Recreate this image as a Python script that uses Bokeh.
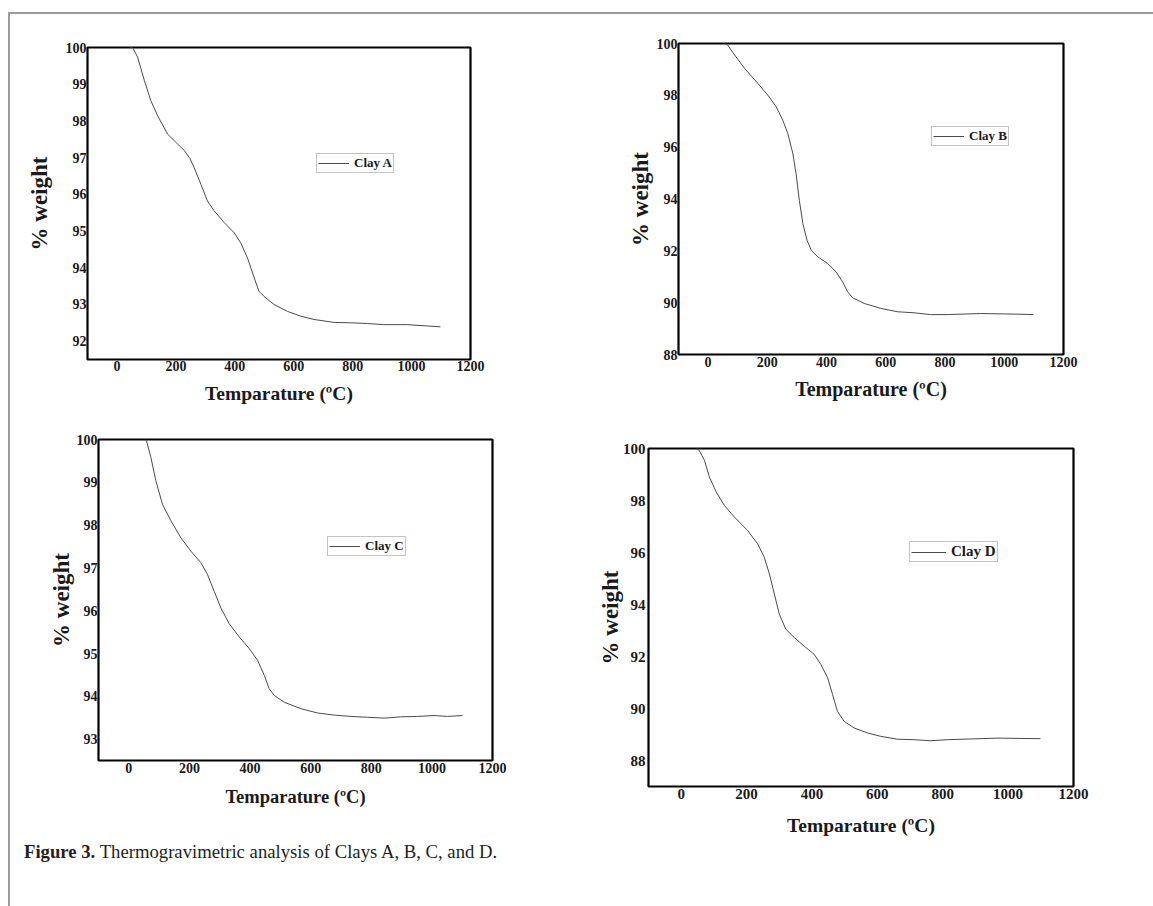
from bokeh.plotting import figure
from bokeh.models import FixedTicker, Legend, LegendItem, Div
from bokeh.layouts import row, column
from bokeh.embed import file_html
from bokeh.resources import INLINE

# ---------------- data ----------------
temp_a = [45, 53, 70, 93, 115, 138, 172, 206, 228, 248, 262, 285, 307, 330, 364, 398, 420,
          443, 466, 482, 499, 533, 579, 624, 669, 737, 793, 850, 906, 985, 1098]
weight_a = [100.0, 100.0, 99.74, 99.1, 98.55, 98.14, 97.64, 97.37, 97.2, 96.97, 96.73, 96.27,
            95.82, 95.55, 95.23, 94.95, 94.68, 94.27, 93.72, 93.36, 93.22, 93.0, 92.81,
            92.68, 92.59, 92.51, 92.5, 92.48, 92.45, 92.45, 92.39]

temp_b = [55, 64, 90, 123, 168, 202, 230, 252, 269, 286, 297, 308, 320, 334, 348, 370,
          404, 432, 454, 471, 488, 527, 583, 639, 695, 751, 807, 920, 1032, 1099]
weight_b = [100.0, 99.97, 99.55, 99.04, 98.46, 98.0, 97.56, 97.04, 96.53, 95.76, 94.98,
            93.95, 93.05, 92.41, 92.03, 91.77, 91.51, 91.19, 90.8, 90.42, 90.19, 89.97,
            89.78, 89.65, 89.61, 89.54, 89.54, 89.58, 89.56, 89.54]

temp_c = [55, 58, 73, 89, 111, 139, 172, 205, 238, 260, 282, 304, 331, 364, 397, 425,
          447, 463, 480, 513, 568, 623, 678, 733, 788, 843, 897, 953, 1007, 1051, 1101]
weight_c = [100.0, 99.98, 99.58, 99.04, 98.49, 98.1, 97.7, 97.39, 97.12, 96.84, 96.45,
            96.06, 95.7, 95.39, 95.12, 94.84, 94.49, 94.18, 94.02, 93.86, 93.71, 93.61,
            93.56, 93.53, 93.51, 93.49, 93.52, 93.53, 93.55, 93.53, 93.55]

temp_d = [45, 53, 71, 86, 107, 132, 163, 203, 234, 254, 270, 285, 300, 320, 346, 376,
          407, 427, 448, 463, 478, 498, 529, 570, 610, 661, 712, 763, 814, 865, 966, 1099]
weight_d = [100.0, 99.97, 99.55, 98.91, 98.33, 97.81, 97.36, 96.85, 96.33, 95.82, 95.17,
            94.4, 93.63, 93.05, 92.73, 92.4, 92.08, 91.7, 91.18, 90.54, 89.89, 89.51,
            89.25, 89.06, 88.93, 88.82, 88.8, 88.76, 88.8, 88.82, 88.86, 88.84]

x_ticks = [0, 200, 400, 600, 800, 1000, 1200]
y_ticks_a = [92, 93, 94, 95, 96, 97, 98, 99, 100]
y_ticks_b = [88, 90, 92, 94, 96, 98, 100]
y_ticks_c = [93, 94, 95, 96, 97, 98, 99, 100]
y_ticks_d = [88, 90, 92, 94, 96, 98, 100]
series_labels = ["Clay A", "Clay B", "Clay C", "Clay D"]
x_title = "Temparature (\u00baC)"
y_title = "% weight"
caption_bold = "Figure 3."
caption_text = "Thermogravimetric analysis of Clays A, B, C, and D."

SERIF = "Liberation Serif"
INK = "#1a1a1a"


def panel(temps, weights, label, y_range, y_ticks, w, h, bl, bt, br, bb,
          tick_px, ytitle_px, xtitle_px, ylab_stand, xlab_stand, ytit_stand, xtit_stand,
          leg_xy, leg_px, glyph_w):
    p = figure(width=w, height=h, x_range=(-100, 1200), y_range=y_range,
               output_backend="svg", toolbar_location=None,
               min_border_left=bl, min_border_top=bt, min_border_right=br,
               min_border_bottom=bb)
    p.border_fill_color = None
    p.background_fill_color = None
    p.outline_line_color = "black"
    p.outline_line_width = 2.2
    p.grid.visible = False
    r = p.line(temps, weights, line_color="#4a4a4a", line_width=1)

    for ax in (p.xaxis[0], p.yaxis[0]):
        ax.axis_line_color = None
        ax.major_tick_line_color = None
        ax.minor_tick_line_color = None
        ax.major_tick_out = 0
        ax.major_tick_in = 0
        ax.minor_tick_out = 0
        ax.minor_tick_in = 0
        ax.major_label_text_font = SERIF
        ax.major_label_text_font_style = "bold"
        ax.major_label_text_font_size = f"{tick_px}px"
        ax.major_label_text_color = INK
        ax.axis_label_text_font = SERIF
        ax.axis_label_text_font_style = "bold"
        ax.axis_label_text_color = INK
    p.xaxis[0].ticker = FixedTicker(ticks=x_ticks)
    p.yaxis[0].ticker = FixedTicker(ticks=y_ticks)
    p.xaxis[0].axis_label = x_title
    p.yaxis[0].axis_label = y_title
    p.xaxis[0].axis_label_text_font_size = f"{xtitle_px}px"
    p.yaxis[0].axis_label_text_font_size = f"{ytitle_px}px"
    p.xaxis[0].major_label_standoff = xlab_stand
    p.yaxis[0].major_label_standoff = ylab_stand
    p.xaxis[0].axis_label_standoff = xtit_stand
    p.yaxis[0].axis_label_standoff = ytit_stand

    leg = Legend(items=[LegendItem(label=label, renderers=[r])], location=leg_xy)
    leg.border_line_color = "#8a8a8a"
    leg.border_line_width = 1
    leg.background_fill_alpha = 1
    leg.padding = 1
    leg.margin = 0
    leg.spacing = 0
    leg.glyph_width = glyph_w
    leg.glyph_height = 10
    leg.label_height = 10
    leg.label_standoff = 5
    leg.label_text_font = SERIF
    leg.label_text_font_style = "bold"
    leg.label_text_font_size = f"{leg_px}px"
    leg.label_text_color = INK
    leg.label_text_line_height = 1.0
    p.add_layout(leg, "center")
    return p


pa = panel(temp_a, weight_a, series_labels[0], (91.5, 100), y_ticks_a,
           580, 420, 87, 47, 110, 61, 14, 23, 19.5, 1, 1, 11, 9, (229, 186), 13, 31)
pb = panel(temp_b, weight_b, series_labels[1], (88, 100), y_ticks_b,
           571, 420, 98, 43, 88, 66, 14, 23, 20, 1, 2, 1, 8, (253, 208), 13, 31)
pc = panel(temp_c, weight_c, series_labels[2], (92.5, 100), y_ticks_c,
           580, 418, 98, 19, 88, 78, 14, 23, 18.5, 1, 2, 0, 11, (229, 204), 13, 31)
pd_ = panel(temp_d, weight_d, series_labels[3], (87, 100), y_ticks_d,
            571, 418, 68, 28, 78, 52, 15, 23, 19.5, 3, 2, -3, 13, (261, 224), 15, 35)

cap = Div(text=f'<span style="font-weight:bold">{caption_bold}</span> {caption_text}',
          width=1151, height=66,
          styles={"font-family": "'Liberation Serif', serif", "font-size": "18.7px",
                  "line-height": "1", "color": "#231f20", "padding-left": "19px",
                  "padding-top": "0px"})

layout = column(row(column(pa), column(pb)), row(column(pc), column(pd_)), cap,
                styles={"background-image": "linear-gradient(#9c9c9c,#9c9c9c), linear-gradient(#9c9c9c,#9c9c9c)",
                        "background-size": "100% 2px, 2px 100%",
                        "background-position": "9px 12px, 8px 12px",
                        "background-repeat": "no-repeat"})

open("out.html", "w").write(file_html(layout, INLINE))
